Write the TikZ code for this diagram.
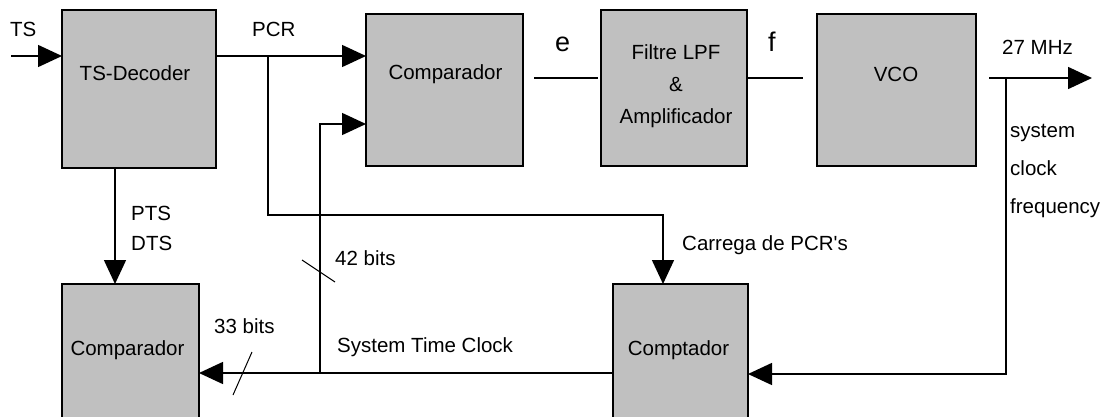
\documentclass[tikz,border=0pt]{standalone}
\usepackage{fontspec}
\setmainfont{Liberation Sans}
\usetikzlibrary{arrows.meta}
\definecolor{boxgray}{HTML}{C0C0C0}
\begin{document}
\begin{tikzpicture}[x=1pt,y=-1pt,
  box/.style={draw=black,fill=boxgray,line width=1.5pt,inner sep=0pt,outer sep=0pt},
  wire/.style={line width=1.5pt},
  arr/.style={wire,-{Triangle[length=24pt,width=22pt]}},
  slash/.style={line width=1pt},
  txt/.style={font=\fontsize{20.5}{24}\selectfont,inner sep=0pt},
  big/.style={font=\fontsize{27}{30}\selectfont,inner sep=0pt}]
\useasboundingbox (0,0) rectangle (1107,417);
\begin{scope}
\clip (0,0) rectangle (1107,417);
% boxes
\node[box,minimum width=154pt,minimum height=158pt] (dec) at (139,89) {};
\node[box,minimum width=157pt,minimum height=152pt] (cmpa) at (444.5,90) {};
\node[box,minimum width=146pt,minimum height=156pt] (lpf) at (674,88) {};
\node[box,minimum width=159pt,minimum height=152pt] (vco) at (896.5,90) {};
\node[box,minimum width=137pt,minimum height=150pt] (cmpb) at (130.5,359) {};
\node[box,minimum width=135pt,minimum height=150pt] (cnt) at (680.5,359) {};
\end{scope}
% box texts
\node[txt,anchor=base] (tdec) at (135,81) {TS-Decoder};
\node[txt,anchor=base] (tcmpa) at (445.5,80) {Comparador};
\node[txt,anchor=base] (tlpf1) at (676,60) {Filtre LPF};
\node[txt,anchor=base] (tlpf2) at (676,92) {\&};
\node[txt,anchor=base] (tlpf3) at (676,124) {Amplificador};
\node[txt,anchor=base] (tvco) at (896,82) {VCO};
\node[txt,anchor=base] (tcmpb) at (127.5,355) {Comparador};
\node[txt,anchor=base] (tcnt) at (678.5,355) {Comptador};
% coordinates
\coordinate (tsin) at (11,56);
\coordinate (pcr) at (268,56);
\coordinate (ld) at (663,215);
\coordinate (stc) at (320,373);
\coordinate (eL) at (534,78);
\coordinate (eR) at (598,78);
\coordinate (fR) at (803,78);
\coordinate (vL) at (989,78);
\coordinate (vR) at (1092,78);
\coordinate (sc) at (1006,78);
\coordinate (scb) at (1006,374);
\coordinate (pd) at (115,0);
% connectors
\draw[arr] (tsin) -- (tsin -| dec.west);
\draw[arr] (dec.east |- tsin) -- (cmpa.west |- tsin);
\draw[arr] (pcr) |- (ld) -- (ld |- cnt.north);
\draw[arr] (stc) |- ([yshift=-34pt]cmpa.west);
\draw[wire] (eL) -- (eR);
\draw[wire] (lpf.east |- fR) -- (fR);
\draw[arr] (vL) -- (vR);
\draw[arr] (sc) -- (scb) -- (scb -| cnt.east);
\draw[arr] (dec.south -| pd) -- (cmpb.north -| pd);
\draw[arr] (cnt.west |- stc) -- (cmpb.east |- stc);
% bus slashes
\coordinate (s1a) at (233,395);
\coordinate (s1b) at (252,352);
\coordinate (s2a) at (302,260);
\coordinate (s2b) at (335,282);
\draw[slash] (s1a) -- (s1b);
\draw[slash] (s2a) -- (s2b);
% labels
\node[txt,anchor=base west] (lts) at (10,37) {TS};
\node[txt,anchor=base west] (lpcr) at (252,37) {PCR};
\node[big,anchor=base west] (le) at (555,52) {e};
\node[big,anchor=base west] (lf) at (768,52) {f};
\node[txt,anchor=base west] (lmhz) at (1002,55) {27 MHz};
\node[txt,anchor=base west] (lsys) at (1010,137) {system};
\node[txt,anchor=base west] (lclk) at (1010,175) {clock};
\node[txt,anchor=base west] (lfrq) at (1010,213) {frequency};
\node[txt,anchor=base west] (lpts) at (131,220) {PTS};
\node[txt,anchor=base west] (ldts) at (131,250) {DTS};
\node[txt,anchor=base west] (l42) at (335,265) {42 bits};
\node[txt,anchor=base west] (l33) at (214,333) {33 bits};
\node[txt,anchor=base west] (lstc) at (337,352) {System Time Clock};
\node[txt,anchor=base west] (lcar) at (682,250) {Carrega de PCR\textquotesingle s};
\end{tikzpicture}
\end{document}
